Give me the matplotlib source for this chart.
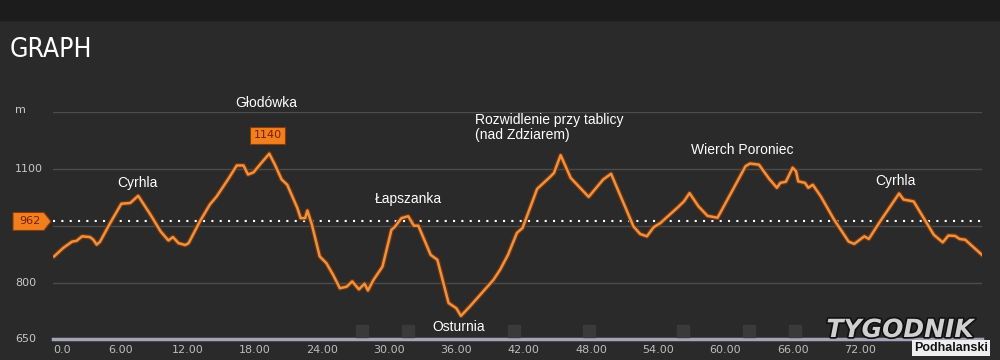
import matplotlib.pyplot as plt
import matplotlib.patheffects as pe
from matplotlib.patches import Rectangle, Polygon

# elevation profile (km, m)
dist = [0.1, 0.9, 1.7, 2.1, 2.6, 3.3, 3.6, 3.9, 4.2, 5.1, 6.1, 6.9, 7.6, 8.7, 9.6,
        10.3, 10.7, 11.2, 11.8, 12.1, 13.1, 14.0, 14.6, 15.7, 16.4, 17.0, 17.4, 17.9,
        18.6, 19.3, 19.8, 20.4, 20.9, 21.8, 22.1, 22.5, 22.7, 23.1, 23.8, 24.4, 25.0,
        25.6, 26.2, 26.7, 27.3, 27.8, 28.1, 28.6, 29.4, 30.2, 30.5, 31.1, 31.7, 32.2,
        32.6, 33.7, 34.3, 35.3, 36.0, 36.4, 37.2, 39.3, 39.9, 40.6, 41.4, 41.9, 43.2,
        44.4, 44.7, 45.3, 46.2, 47.8, 49.1, 49.8, 51.8, 52.4, 53.0, 53.6, 54.2, 55.7,
        56.3, 56.8, 57.6, 58.4, 59.3, 60.5, 61.8, 62.2, 63.0, 63.9, 64.6, 64.9, 65.4,
        66.0, 66.3, 66.5, 67.1, 67.4, 67.8, 68.5, 69.7, 71.0, 71.5, 72.4, 72.8, 73.8,
        75.5, 75.9, 76.8, 77.7, 78.6, 79.4, 79.9, 80.5, 80.9, 81.4, 82.9]
elev = [869, 891, 908, 910, 922, 920, 913, 900, 908, 957, 1008, 1010, 1029, 979, 935,
        911, 920, 904, 899, 904, 961, 1006, 1027, 1076, 1109, 1109, 1085, 1091,
        1116, 1140, 1111, 1072, 1058, 997, 970, 970, 990, 953, 869, 851, 820,
        785, 789, 803, 782, 797, 779, 807, 842, 939, 947, 970, 975, 950,
        950, 873, 860, 746, 732, 712, 737, 807, 834, 873, 931, 944, 1047,
        1080, 1089, 1136, 1076, 1026, 1072, 1087, 948, 928, 922, 946, 957, 997,
        1014, 1036, 1001, 976, 971, 1036, 1107, 1114, 1111, 1074, 1050, 1063, 1066,
        1103, 1094, 1067, 1063, 1050, 1058, 1028, 966, 908, 902, 922, 915, 961,
        1035, 1019, 1014, 970, 926, 906, 924, 923, 915, 913, 873]

avg_elev = 962
max_elev = 1140
waypoints = [27.6, 31.7, 41.1, 47.8, 56.2, 62.1, 66.2]
xticks = [0, 6, 12, 18, 24, 30, 36, 42, 48, 54, 60, 66, 72]
xlabels = ['0.0'] + ['%.2f' % t for t in xticks[1:]]
yticks = [650, 800, 1100]

# (label, x px, y px, alignment)
names = [('Cyrhla', 137, 183, 'center'),
         ('Głodówka', 266, 103, 'center'),
         ('Łapszanka', 408, 199, 'center'),
         ('Rozwidlenie przy tablicy', 475, 120, 'left'),
         ('(nad Zdziarem)', 475, 135, 'left'),
         ('Osturnia', 459, 327, 'center'),
         ('Wierch Poroniec', 742, 150, 'center'),
         ('Cyrhla', 895, 181, 'center')]

W, H = 1000, 360
fig = plt.figure(figsize=(10, 3.6), dpi=100, facecolor='#2a2a2a')
fig.patches.append(Rectangle((0, 1 - 20 / H), 1, 20 / H, transform=fig.transFigure,
                             color='#1c1c1c', zorder=0))

ax = fig.add_axes([53 / W, (H - 339.4) / H, 929 / W, 227.4 / H])
ax.set_facecolor('none')
ax.set_xlim(0, 82.9)
ax.set_ylim(650, 1250)
for s in ax.spines.values():
    s.set_visible(False)
ax.set_xticks([])
ax.set_yticks([])

for g in [800, 950, 1100, 1250]:
    ax.axhline(g, color='#4c4c4c', lw=1, zorder=1)
ax.axhline(650, color='#a4a4b8', lw=2.5, zorder=1, clip_on=False)

ax.plot(waypoints, [671] * len(waypoints), 's', ms=8, color='#3a3a3a', zorder=1)

ax.axhline(avg_elev, color='white', lw=1.5, ls=(0, (1, 3)), zorder=2)

ax.plot(dist, elev, color='#ee9240', lw=1.8, zorder=3,
        path_effects=[pe.Stroke(linewidth=3.6, foreground='#6e3410'), pe.Normal()])

for t, lab in zip(xticks, xlabels):
    ax.text(t, 636, lab, ha='left' if t == 0 else 'center', va='top',
            fontsize=8, color='#bdbdbd', family='DejaVu Sans', clip_on=False)

for v in yticks:
    fig.text(15 / W, 1 - (282.7 - (v - 800) * 0.378) / H, str(v), fontsize=8,
             color='#c8c8c8', ha='left', va='center', family='DejaVu Sans')
fig.text(15 / W, 1 - 110 / H, 'm', fontsize=8, color='#c8c8c8', ha='left',
         va='center', family='DejaVu Sans')

# average marker
ypx = 282.7 - (avg_elev - 800) * 0.378
pts = [(13, ypx - 9), (44, ypx - 9), (51, ypx), (44, ypx + 9), (13, ypx + 9)]
fig.patches.append(Polygon([(x / W, 1 - y / H) for x, y in pts], closed=True,
                           transform=fig.transFigure, facecolor='#f27f1e',
                           edgecolor='#8a3a08', lw=0.8, zorder=4))
fig.text(30 / W, 1 - ypx / H, str(avg_elev), fontsize=8, color='#7a1e06',
         ha='center', va='center', family='DejaVu Sans', zorder=5)

# max label
fig.text(267.5 / W, 1 - 135.5 / H, str(max_elev), fontsize=8, color='#7a1e06',
         ha='center', va='center', family='DejaVu Sans', zorder=5,
         bbox=dict(boxstyle='square,pad=0.35', fc='#f27f1e', ec='#8a3a08', lw=0.8))

for lab, x, y, ha in names:
    fig.text(x / W, 1 - y / H, lab, fontsize=10, color='white', ha=ha, va='center',
             family='Liberation Sans')

fig.text(10 / W, 1 - 50 / H, 'GRAPH', fontsize=19, color='white', ha='left',
         va='center', family='DejaVu Sans', stretch='condensed')

# watermark
fig.text(900 / W, 1 - 330 / H, 'TYGODNIK', fontsize=18, color='#d0d0d0', ha='center',
         va='center', family='DejaVu Sans', weight='bold', style='italic', zorder=6,
         path_effects=[pe.Stroke(linewidth=2.5, foreground='#111111'), pe.Normal()])
fig.text(951 / W, 1 - 348 / H, 'Podhalanski', fontsize=9, color='#111111',
         ha='center', va='center', family='Liberation Sans', weight='bold',
         zorder=6, bbox=dict(boxstyle='square,pad=0.15', fc='#eeeeee', ec='none'))

fig.savefig('out.png', dpi=100, facecolor=fig.get_facecolor())
